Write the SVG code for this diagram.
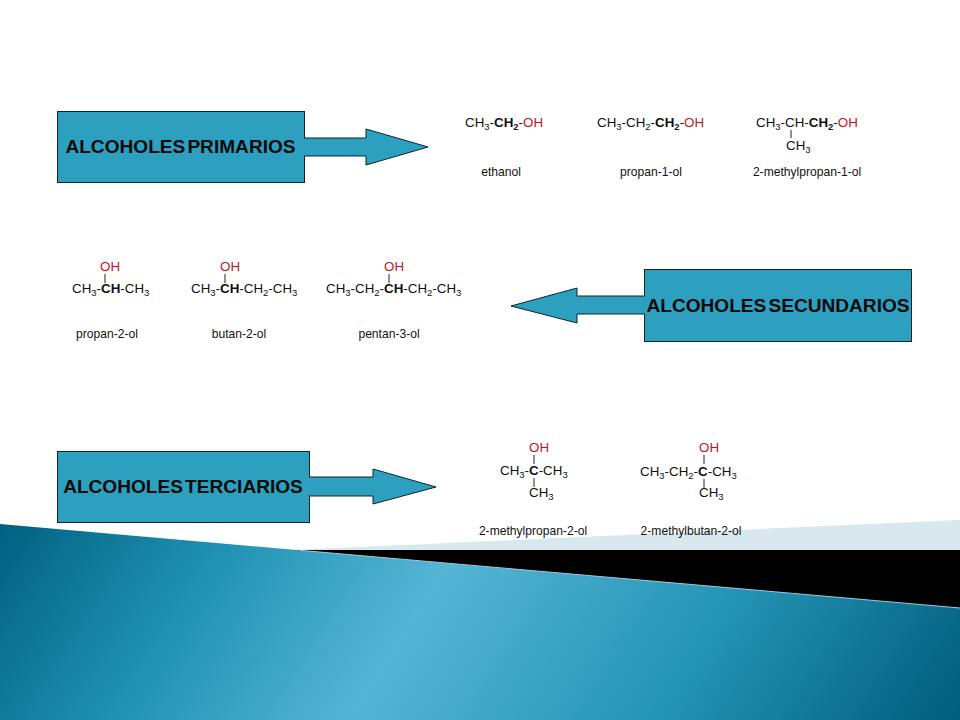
<svg xmlns="http://www.w3.org/2000/svg" width="960" height="720" viewBox="0 0 960 720">
<style>
text{font-family:"Liberation Sans",Arial,sans-serif;fill:#111}
.box{fill:#2da0bf;stroke:#0b2530;stroke-width:1}
.arrow{fill:#2da0bf;stroke:#0b2530;stroke-width:1;stroke-linejoin:miter}
.head{font-size:19.1px;font-weight:bold;text-anchor:middle;word-spacing:-3.2px;fill:#0a0a0a}
.f{font-size:13.35px}
.n{font-size:12.1px;text-anchor:middle}
.b{font-weight:bold}
.r{fill:#c4121f}
.s{font-size:9.5px}
.bond{stroke:#222;stroke-width:1;fill:none}
</style>
<defs>
<linearGradient id="wave" gradientUnits="userSpaceOnUse" x1="56" y1="427" x2="829" y2="924">
<stop offset="0" stop-color="#005f80"/>
<stop offset="0.22" stop-color="#2091b2"/>
<stop offset="0.44" stop-color="#55b5d5"/>
<stop offset="0.72" stop-color="#2494b5"/>
<stop offset="1" stop-color="#005c7a"/>
</linearGradient>
</defs>
<rect width="960" height="720" fill="#fff"/>
<g id="background">
<polygon points="290,550 960,520 960,550" fill="#d9e8ef"/>
<rect x="295" y="550" width="665" height="70" fill="#000"/>
<polygon points="0,524 960,608 960,720 0,720" fill="url(#wave)"/>
<line x1="300" y1="550.300" x2="960" y2="608" stroke="#9ccbdb" stroke-width="1"/>
</g>
<g id="node-primarios">
<rect class="box" x="57.500" y="111.500" width="247" height="71"/>
<text class="head" x="180.500" y="152.500">ALCOHOLES PRIMARIOS</text>
</g>
<g id="node-secundarios">
<rect class="box" x="644.500" y="269.500" width="267" height="72"/>
<text class="head" x="778" y="311.500">ALCOHOLES SECUNDARIOS</text>
</g>
<g id="node-terciarios">
<rect class="box" x="57.500" y="451.500" width="252" height="71"/>
<text class="head" x="183" y="492.500">ALCOHOLES TERCIARIOS</text>
</g>
<g id="connectors">
<path class="arrow" d="M304 138H366V129L428 147L366 165V156H304"/>
<path class="arrow" d="M645 296H577V288L511 306L577 323V314H645"/>
<path class="arrow" d="M309 477H373V469L436 487L373 504V496H309"/>
</g>
<g id="ethanol">
<text class="f" x="465" y="127">CH<tspan class="s" dy="2.500">3</tspan><tspan dy="-2.500">-</tspan><tspan class="b">CH</tspan><tspan class="b s" dy="2.500">2</tspan><tspan dy="-2.500">-</tspan><tspan class="r">OH</tspan></text>
<text class="n" x="501" y="176">ethanol</text>
</g>
<g id="propan-1-ol">
<text class="f" x="597" y="127">CH<tspan class="s" dy="2.500">3</tspan><tspan dy="-2.500">-CH</tspan><tspan class="s" dy="2.500">2</tspan><tspan dy="-2.500">-</tspan><tspan class="b">CH</tspan><tspan class="b s" dy="2.500">2</tspan><tspan dy="-2.500">-</tspan><tspan class="r">OH</tspan></text>
<text class="n" x="651" y="176">propan-1-ol</text>
</g>
<g id="methylpropan-1-ol">
<text class="f" x="756" y="127">CH<tspan class="s" dy="2.500">3</tspan><tspan dy="-2.500">-CH-</tspan><tspan class="b">CH</tspan><tspan class="b s" dy="2.500">2</tspan><tspan dy="-2.500">-</tspan><tspan class="r">OH</tspan></text>
<line class="bond" x1="791" y1="130" x2="791" y2="138"/>
<text class="f" x="786" y="150">CH<tspan class="s" dy="2.500">3</tspan></text>
<text class="n" x="807" y="176">2-methylpropan-1-ol</text>
</g>
<g id="propan-2-ol">
<text class="f r" x="100" y="271">OH</text>
<line class="bond" x1="105" y1="274" x2="105" y2="283"/>
<text class="f" x="72" y="293">CH<tspan class="s" dy="2.500">3</tspan><tspan dy="-2.500">-</tspan><tspan class="b">CH</tspan>-CH<tspan class="s" dy="2.500">3</tspan></text>
<text class="n" x="107" y="338">propan-2-ol</text>
</g>
<g id="butan-2-ol">
<text class="f r" x="220" y="271">OH</text>
<line class="bond" x1="225" y1="274" x2="225" y2="283"/>
<text class="f" x="191" y="293">CH<tspan class="s" dy="2.500">3</tspan><tspan dy="-2.500">-</tspan><tspan class="b">CH</tspan>-CH<tspan class="s" dy="2.500">2</tspan><tspan dy="-2.500">-CH</tspan><tspan class="s" dy="2.500">3</tspan></text>
<text class="n" x="239" y="338">butan-2-ol</text>
</g>
<g id="pentan-3-ol">
<text class="f r" x="384" y="271">OH</text>
<line class="bond" x1="389" y1="274" x2="389" y2="283"/>
<text class="f" x="326" y="293">CH<tspan class="s" dy="2.500">3</tspan><tspan dy="-2.500">-CH</tspan><tspan class="s" dy="2.500">2</tspan><tspan dy="-2.500">-</tspan><tspan class="b">CH</tspan>-CH<tspan class="s" dy="2.500">2</tspan><tspan dy="-2.500">-CH</tspan><tspan class="s" dy="2.500">3</tspan></text>
<text class="n" x="389" y="338">pentan-3-ol</text>
</g>
<g id="methylpropan-2-ol">
<text class="f r" x="529" y="452">OH</text>
<line class="bond" x1="534" y1="455" x2="534" y2="464"/>
<text class="f" x="500" y="475">CH<tspan class="s" dy="2.500">3</tspan><tspan dy="-2.500">-</tspan><tspan class="b">C</tspan>-CH<tspan class="s" dy="2.500">3</tspan></text>
<line class="bond" x1="534" y1="478" x2="534" y2="487"/>
<text class="f" x="529" y="497">CH<tspan class="s" dy="2.500">3</tspan></text>
<text class="n" x="533" y="535">2-methylpropan-2-ol</text>
</g>
<g id="methylbutan-2-ol">
<text class="f r" x="699" y="452">OH</text>
<line class="bond" x1="704" y1="455" x2="704" y2="464"/>
<text class="f" x="640" y="476">CH<tspan class="s" dy="2.500">3</tspan><tspan dy="-2.500">-CH</tspan><tspan class="s" dy="2.500">2</tspan><tspan dy="-2.500">-</tspan><tspan class="b">C</tspan>-CH<tspan class="s" dy="2.500">3</tspan></text>
<line class="bond" x1="704" y1="479" x2="704" y2="488"/>
<text class="f" x="699" y="497">CH<tspan class="s" dy="2.500">3</tspan></text>
<text class="n" x="691" y="535">2-methylbutan-2-ol</text>
</g>
</svg>
